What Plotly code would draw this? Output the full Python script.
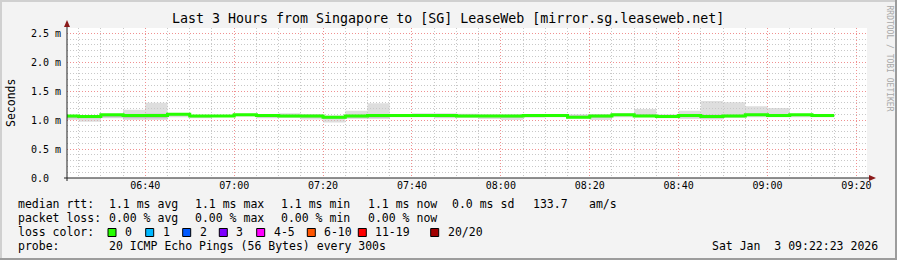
import plotly.graph_objects as go
import pandas as pd

# ---------------- data ----------------
interval_starts = list(pd.date_range("2026-01-03 06:20:00", periods=35, freq="5min"))
data_end = pd.Timestamp("2026-01-03 09:15:00")
range_start = "2026-01-03 06:22:23"
range_end = "2026-01-03 09:22:23"

median_ms = [1.07, 1.06, 1.09, 1.08, 1.08, 1.10, 1.07, 1.07, 1.09, 1.08, 1.07, 1.07,
             1.05, 1.07, 1.08, 1.08, 1.08, 1.08, 1.07, 1.07, 1.07, 1.08, 1.08, 1.05,
             1.07, 1.09, 1.07, 1.06, 1.08, 1.06, 1.07, 1.09, 1.08, 1.09, 1.08]
smoke_hi = [1.08, 1.08, 1.10, 1.18, 1.30, 1.12, 1.08, 1.07, 1.11, 1.10, 1.12, 1.10,
            1.08, 1.16, 1.29, 1.09, 1.12, 1.12, 1.11, 1.10, 1.10, 1.10, 1.10, 1.10,
            1.10, 1.12, 1.19, 1.10, 1.16, 1.33, 1.31, 1.24, 1.21, 1.10, 1.10]
smoke_lo = [1.00, 0.97, 1.03, 1.00, 1.00, 1.05, 1.03, 1.06, 1.06, 1.03, 1.04, 1.01,
            0.96, 1.02, 1.02, 1.05, 1.05, 1.03, 1.04, 1.02, 1.00, 1.04, 1.05, 1.03,
            1.00, 1.05, 1.05, 1.03, 1.02, 1.01, 1.04, 1.05, 1.05, 1.05, 1.05]
inner_lo = [1.03, 1.03, 1.05, 1.03, 1.03, 1.08, 1.05, 1.06, 1.07, 1.05, 1.05, 1.04,
            1.02, 1.04, 1.04, 1.06, 1.06, 1.05, 1.05, 1.05, 1.04, 1.06, 1.06, 1.03,
            1.04, 1.07, 1.06, 1.04, 1.05, 1.03, 1.05, 1.07, 1.06, 1.07, 1.06]
inner_hi = [1.08, 1.07, 1.10, 1.10, 1.11, 1.11, 1.08, 1.07, 1.10, 1.09, 1.09, 1.09,
            1.07, 1.09, 1.10, 1.09, 1.09, 1.10, 1.09, 1.08, 1.08, 1.09, 1.09, 1.08,
            1.09, 1.10, 1.10, 1.08, 1.10, 1.09, 1.09, 1.11, 1.10, 1.10, 1.09]

y_tickvals = [0.0, 0.5, 1.0, 1.5, 2.0, 2.5]
y_ticktext = ["0.0\u00a0\u00a0", "0.5 m", "1.0 m", "1.5 m", "2.0 m", "2.5 m"]

title_text = "Last 3 Hours from Singapore to [SG] LeaseWeb [mirror.sg.leaseweb.net]"
stats_rtt = ["median rtt:", "1.1 ms avg", "1.1 ms max", "1.1 ms min", "1.1 ms now",
             "0.0 ms sd", "133.7", "am/s"]
stats_loss = ["packet loss:", "0.00 % avg", "0.00 % max", "0.00 % min", "0.00 % now"]
loss_labels = ["0", "1", "2", "3", "4-5", "6-10", "11-19", "20/20"]
loss_colors = ["#26ff00", "#00b8ff", "#0059ff", "#7e00ff", "#ff00ff", "#ff5500",
               "#ff0000", "#a10000"]
probe_text = "20 ICMP Echo Pings (56 Bytes) every 300s"
date_text = "Sat Jan  3 09:22:23 2026"

# ---------------- layout geometry ----------------
W, H = 897, 260
L, R, T, B = 67, 30, 28, 82
PW, PH = W - L - R, H - T - B
FONT = "DejaVu Sans Mono"


def px(x):
    return (x - L) / PW


def py(y):
    return (T + PH - y) / PH


xs = interval_starts + [data_end]


def ext(a):
    return list(a) + [a[-1]]


fig = go.Figure()
fig.add_trace(go.Scatter(x=xs, y=ext(smoke_lo), mode="lines", line=dict(width=0, shape="hv"),
                         hoverinfo="skip"))
fig.add_trace(go.Scatter(x=xs, y=ext(smoke_hi), mode="lines", line=dict(width=0, shape="hv"),
                         fill="tonexty", fillcolor="rgba(200,200,200,0.6)", hoverinfo="skip"))
fig.add_trace(go.Scatter(x=xs, y=ext(inner_lo), mode="lines", line=dict(width=0, shape="hv"),
                         hoverinfo="skip"))
fig.add_trace(go.Scatter(x=xs, y=ext(inner_hi), mode="lines", line=dict(width=0, shape="hv"),
                         fill="tonexty", fillcolor="rgba(150,150,150,0.45)", hoverinfo="skip"))
fig.add_trace(go.Scatter(x=xs, y=ext(median_ms), mode="lines",
                         line=dict(width=3, shape="hv", color=loss_colors[0])))

shapes = []
annotations = []

# axes lines and arrows
axis_col = "#202020"
arrow_col = "#8b1a1a"
shapes.append(dict(type="line", xref="paper", yref="paper", x0=px(64), x1=px(870),
                   y0=py(178), y1=py(178), line=dict(color=axis_col, width=1)))
shapes.append(dict(type="line", xref="paper", yref="paper", x0=px(67), x1=px(67),
                   y0=py(181), y1=py(25), line=dict(color=axis_col, width=1)))
shapes.append(dict(type="path", xref="paper", yref="paper",
                   path=f"M {px(869)} {py(175)} L {px(876)} {py(178)} L {px(869)} {py(181)} Z",
                   fillcolor=arrow_col, line=dict(color=arrow_col, width=0)))
shapes.append(dict(type="path", xref="paper", yref="paper",
                   path=f"M {px(64)} {py(27)} L {px(67)} {py(20)} L {px(70)} {py(27)} Z",
                   fillcolor=arrow_col, line=dict(color=arrow_col, width=0)))

# frame
shapes.append(dict(type="rect", xref="paper", yref="paper", x0=px(0), x1=px(897),
                   y0=py(0), y1=py(2), fillcolor="#d0d0d0", line=dict(width=0)))
shapes.append(dict(type="rect", xref="paper", yref="paper", x0=px(0), x1=px(2),
                   y0=py(0), y1=py(260), fillcolor="#d0d0d0", line=dict(width=0)))
shapes.append(dict(type="rect", xref="paper", yref="paper", x0=px(0), x1=px(897),
                   y0=py(258), y1=py(260), fillcolor="#9c9c9c", line=dict(width=0)))
shapes.append(dict(type="rect", xref="paper", yref="paper", x0=px(895), x1=px(897),
                   y0=py(0), y1=py(260), fillcolor="#9c9c9c", line=dict(width=0)))


def text(x, y, s, size=11.5, anchor="left", color="#000000", angle=0):
    annotations.append(dict(xref="paper", yref="paper", x=px(x), y=py(y),
                            text=s.replace(" ", "\u00a0"), showarrow=False,
                            xanchor=anchor, yanchor="middle", textangle=angle,
                            font=dict(family=FONT, size=size, color=color)))


text(447.5, 19, title_text, size=13.3, anchor="center")
text(11, 103, "Seconds", size=11.5, anchor="center", angle=-90)
text(888.5, 58, "RRDTOOL / TOBI OETIKER", size=8, anchor="center", color="#a8a8a8", angle=90)

rtt_x = [16, 107, 193, 279, 365.5, 450, 531, 587]
for s, x in zip(stats_rtt, rtt_x):
    text(x, 204, s)
loss_x = [16, 107, 193, 279, 365.5]
for s, x in zip(stats_loss, loss_x):
    text(x, 218, s)
text(16, 232, "loss color:")
box_x = [108, 145.7, 182.7, 219.3, 256.7, 307.3, 358.3, 430.7]
for lab, col, bx in zip(loss_labels, loss_colors, box_x):
    shapes.append(dict(type="rect", xref="paper", yref="paper", x0=px(bx), x1=px(bx + 8),
                       y0=py(236.5), y1=py(228.5), fillcolor=col,
                       line=dict(color="#000000", width=1)))
    text(bx + 15, 232, lab)
text(16, 246, "probe:")
text(107, 246, probe_text)
text(880, 246, date_text, anchor="right")

major_grid = "#f09090"
minor_grid = "#c8c8c8"

fig.update_layout(
    width=W, height=H,
    margin=dict(l=L, r=R, t=T, b=B, autoexpand=False),
    paper_bgcolor="#f3f3f3", plot_bgcolor="#ffffff",
    showlegend=False,
    shapes=shapes, annotations=annotations,
    xaxis=dict(type="date", range=[range_start, range_end], tickformat="%H:%M",
               tick0="2026-01-03 06:40:00", dtick=1200000,
               showgrid=True, gridcolor=major_grid, griddash="1px,2px", gridwidth=1,
               minor=dict(dtick=300000, tick0="2026-01-03 06:40:00", showgrid=True,
                          gridcolor=minor_grid, griddash="1px,2px", gridwidth=1),
               ticks="", showline=False, zeroline=False,
               tickfont=dict(family=FONT, size=10, color="#000000")),
    yaxis=dict(range=[0, 2.59], tickmode="array", tickvals=y_tickvals, ticktext=y_ticktext,
               showgrid=True, gridcolor=major_grid, griddash="1px,2px", gridwidth=1,
               minor=dict(dtick=0.1, tick0=0, showgrid=True, gridcolor=minor_grid,
                          griddash="1px,2px", gridwidth=1),
               ticks="", showline=False, zeroline=False, ticklabelstandoff=5,
               tickfont=dict(family=FONT, size=10, color="#000000")),
)

fig.write_html("out.html")
